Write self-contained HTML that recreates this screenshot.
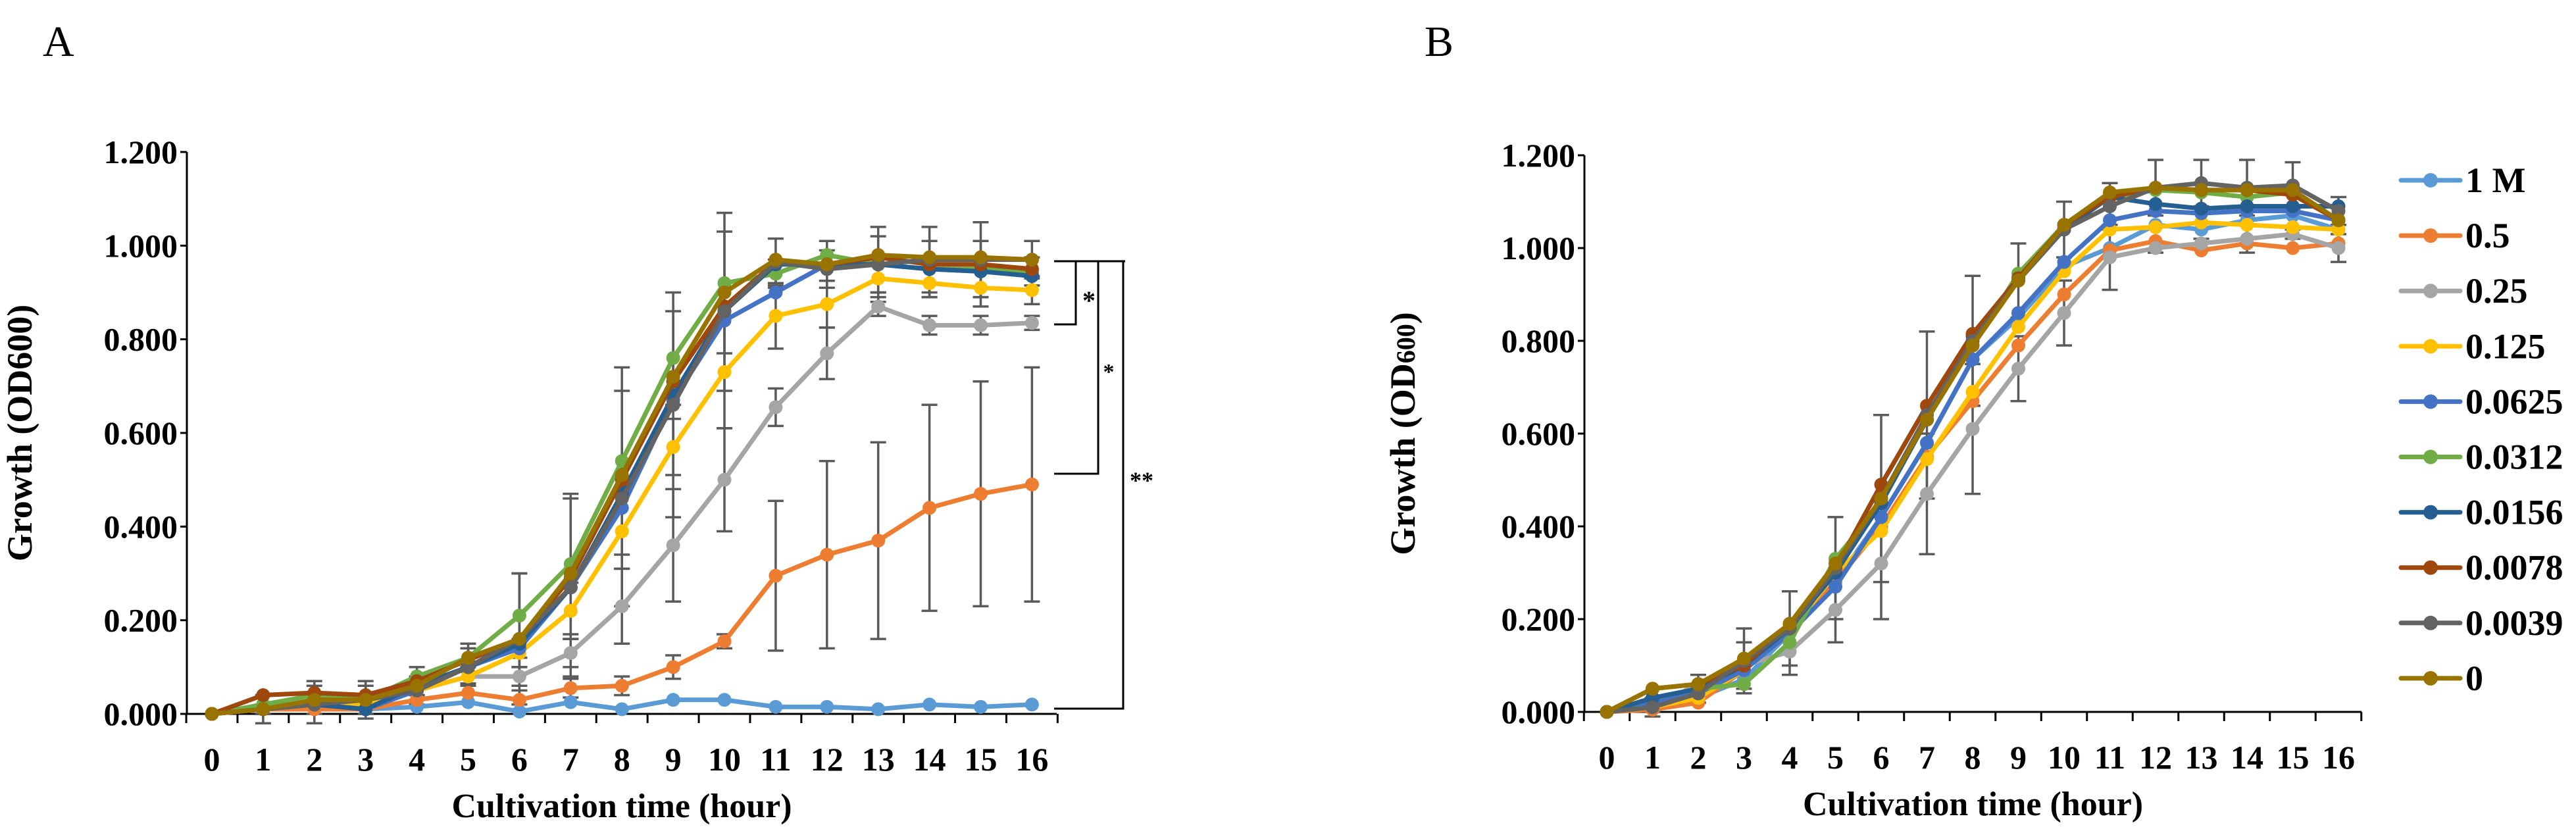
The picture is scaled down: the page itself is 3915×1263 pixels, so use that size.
<!DOCTYPE html>
<html><head><meta charset="utf-8"><style>
html,body{margin:0;padding:0;background:#fff;}
svg text{font-family:"Liberation Serif",serif;}
</style></head><body>
<svg id="chart" width="3915" height="1258" viewBox="0 0 3915 1258" xmlns="http://www.w3.org/2000/svg">
<text x="65" y="85" font-size="66">A</text>
<text x="2165" y="85" font-size="66">B</text>
<g id="pa"></g>
<g id="pb"></g>
<g id="sig" stroke="#000" stroke-width="3" fill="none">
<path d="M1602 397 H1710 M1602 493 H1635 V397 M1602 720 H1669 V397 M1602 1077 H1707 V397"/>
</g>
<text x="1655" y="470" font-size="40" font-weight="bold" text-anchor="middle">*</text>
<text x="1685" y="576" font-size="34" font-weight="bold" text-anchor="middle">*</text>
<text x="1735" y="742" font-size="36" font-weight="bold" text-anchor="middle">**</text>
</svg>
<script>
const hours = [0,1,2,3,4,5,6,7,8,9,10,11,12,13,14,15,16];
const seriesNames = ["1 M","0.5","0.25","0.125","0.0625","0.0312","0.0156","0.0078","0.0039","0"];
const seriesColors = ["#5B9BD5","#ED7D31","#A5A5A5","#FFC000","#4472C4","#70AD47","#255E91","#9E480E","#636363","#997300"];
const yTicks = [0,0.2,0.4,0.6,0.8,1.0,1.2];
const yTickLabels = ["0.000","0.200","0.400","0.600","0.800","1.000","1.200"];

const aVals = [
[0,0.01,0.01,0.01,0.015,0.025,0.005,0.025,0.01,0.03,0.03,0.015,0.015,0.01,0.02,0.015,0.02],
[0,0.01,0.01,0.01,0.03,0.045,0.03,0.055,0.06,0.1,0.155,0.295,0.34,0.37,0.44,0.47,0.49],
[0,0.01,0.02,0.02,0.05,0.08,0.08,0.13,0.23,0.36,0.5,0.655,0.77,0.87,0.83,0.83,0.835],
[0,0.01,0.02,0.02,0.05,0.08,0.13,0.22,0.39,0.57,0.73,0.85,0.875,0.93,0.92,0.91,0.905],
[0,0.02,0.02,0.01,0.05,0.1,0.14,0.27,0.44,0.67,0.84,0.9,0.96,0.96,0.95,0.945,0.94],
[0,0.02,0.04,0.03,0.08,0.12,0.21,0.32,0.54,0.76,0.92,0.94,0.98,0.96,0.95,0.95,0.945],
[0,0.01,0.02,0.01,0.06,0.1,0.15,0.27,0.47,0.68,0.86,0.96,0.96,0.96,0.95,0.945,0.935],
[0,0.04,0.045,0.04,0.07,0.115,0.16,0.29,0.5,0.71,0.87,0.965,0.96,0.975,0.96,0.96,0.95],
[0,0.01,0.02,0.03,0.05,0.1,0.16,0.27,0.46,0.66,0.86,0.965,0.95,0.96,0.97,0.97,0.97],
[0,0.01,0.03,0.03,0.06,0.12,0.16,0.3,0.51,0.72,0.9,0.97,0.96,0.98,0.975,0.975,0.97]];
const aErrOrange = [0,0.01,0.01,0.01,0.01,0.02,0.02,0.02,0.02,0.025,0.015,0.16,0.2,0.21,0.22,0.24,0.25];
const aErrGray = [0,0.01,0.01,0.01,0.01,0.02,0.02,0.03,0.08,0.12,0.11,0.04,0.055,0.02,0.02,0.02,0.015];
const aErrTop = [0,0.03,0.04,0.04,0.03,0.04,0.14,0.19,0.23,0.24,0.17,0.05,0.04,0.08,0.07,0.08,0.04];
const aErrGreen = [0,0.02,0.03,0.03,0.02,0.03,0.09,0.15,0.2,0.1,0.15,0.03,0.03,0.06,0.06,0.06,0.03];
const aErrYellow = [0,0.01,0.01,0.01,0.02,0.02,0.03,0.06,0.08,0.06,0.12,0.07,0.05,0.03,0.03,0.04,0.03];

const bVals = [
[0,0.01,0.03,0.07,0.17,0.28,0.42,0.58,0.76,0.85,0.96,1.0,1.05,1.04,1.06,1.07,1.04],
[0,0.005,0.02,0.09,0.17,0.28,0.4,0.55,0.67,0.79,0.9,0.995,1.015,0.995,1.01,1.0,1.01],
[0,0.01,0.06,0.1,0.13,0.22,0.32,0.47,0.61,0.74,0.86,0.98,1.0,1.01,1.02,1.03,1.0],
[0,0.01,0.03,0.09,0.17,0.3,0.39,0.545,0.69,0.83,0.95,1.04,1.045,1.055,1.05,1.045,1.04],
[0,0.02,0.04,0.09,0.17,0.27,0.42,0.58,0.76,0.86,0.97,1.06,1.08,1.075,1.08,1.08,1.06],
[0,0.03,0.05,0.06,0.15,0.33,0.45,0.63,0.79,0.945,1.05,1.11,1.125,1.12,1.11,1.12,1.06],
[0,0.03,0.05,0.1,0.18,0.3,0.45,0.63,0.81,0.93,1.04,1.11,1.095,1.085,1.09,1.09,1.09],
[0,0.05,0.06,0.1,0.19,0.31,0.49,0.66,0.815,0.935,1.05,1.11,1.13,1.125,1.125,1.115,1.06],
[0,0.01,0.04,0.11,0.18,0.31,0.46,0.64,0.8,0.93,1.04,1.09,1.13,1.14,1.13,1.135,1.08],
[0,0.05,0.06,0.115,0.19,0.32,0.46,0.63,0.79,0.93,1.05,1.12,1.13,1.125,1.125,1.125,1.06]];
const bErr = [0,0.02,0.02,0.07,0.08,0.11,0.18,0.18,0.14,0.08,0.06,0.05,0.06,0.05,0.06,0.05,0.03];
const bErrGray = [0,0.01,0.02,0.05,0.05,0.07,0.12,0.13,0.14,0.07,0.07,0.07,0.01,0.01,0.03,0.01,0.03];

const NS = "http://www.w3.org/2000/svg";
function mk(parent, tag, attrs, txt){
  const e = document.createElementNS(NS, tag);
  for (const k in attrs) e.setAttribute(k, attrs[k]);
  if (txt !== undefined) e.textContent = txt;
  parent.appendChild(e);
  return e;
}

function drawPanel(g, cfg, vals, errs, prefix){
  const xs = i => cfg.c0 + i * cfg.step;
  const ys = v => cfg.y0 - v / 1.2 * (cfg.y0 - cfg.y12);
  const ax = mk(g, "path", {d:`M${cfg.axL} ${cfg.y12} V${cfg.y0} H${cfg.axR}`, stroke:"#000", "stroke-width":3, fill:"none"});
  
  
  yTicks.forEach((t, i) => {
    const y = ys(t);
    const tk = mk(g, "line", {x1:cfg.axL-10, x2:cfg.axL, y1:y, y2:y, stroke:"#000", "stroke-width":3});
    
    
    const lb = mk(g, "text", {x:cfg.axL-14, y:y+17, "font-size":50, "font-weight":"bold", "text-anchor":"end"}, yTickLabels[i]);
    
    
  });
  for (let i = 0; i <= hours.length; i++) {
    const x = cfg.c0 + (i - 0.5) * cfg.step;
    const tk = mk(g, "line", {x1:x, x2:x, y1:cfg.y0, y2:cfg.y0+14, stroke:"#000", "stroke-width":3});
    
    
  }
  hours.forEach((h, i) => {
    const lb = mk(g, "text", {x:xs(i), y:cfg.y0+86, "font-size":50, "font-weight":"bold", "text-anchor":"middle"}, String(h));
    
    
  });
  const xt = mk(g, "text", {x:(cfg.axL+cfg.axR)/2, y:cfg.y0+157, "font-size":52, "font-weight":"bold", "text-anchor":"middle"}, "Cultivation time (hour)");
  
  
  const yt = mk(g, "text", {transform:`translate(${cfg.ytX},${(cfg.y0+cfg.y12)/2}) rotate(-90)`, "font-size":54, "font-weight":"bold", "text-anchor":"middle"});
  
  
  if (cfg.sub) {
    yt.appendChild(document.createTextNode("Growth (OD"));
    mk(yt, "tspan", {"font-size":40}, "600");
    yt.appendChild(document.createTextNode(")"));
  } else {
    yt.textContent = "Growth (OD600)";
  }
  errs.forEach(eb => {
    const s = eb.series;
    vals[s].forEach((v, i) => {
      const e = eb.err[i];
      if (!e) return;
      const x = xs(i), y1 = ys(v - e), y2 = ys(v + e);
      const p = mk(g, "path", {d:`M${x} ${y1} V${y2} M${x-12} ${y1} H${x+12} M${x-12} ${y2} H${x+12}`, stroke:"#5a5a5a", "stroke-width":3.5, fill:"none"});
      
      
    });
  });
  vals.forEach((arr, s) => {
    const sg = mk(g, "g", {});
    
    
    const d = arr.map((v, i) => (i ? "L" : "M") + xs(i) + " " + ys(v)).join(" ");
    const ln = mk(sg, "path", {d, stroke:seriesColors[s], "stroke-width":7, fill:"none", "stroke-linejoin":"round"});
    
    
    arr.forEach((v, i) => {
      const c = mk(sg, "circle", {cx:xs(i), cy:ys(v), r:10.5, fill:seriesColors[s]});
      
      
    });
  });
}

drawPanel(document.getElementById("pa"),
  {c0:322, step:77.9, axL:284, axR:1606, y0:1085, y12:231, ytX:48, sub:false},
  aVals,
  [{series:1, err:aErrOrange},{series:2, err:aErrGray},{series:8, err:aErrTop},{series:5, err:aErrGreen},{series:3, err:aErrYellow}], "panel-a");

drawPanel(document.getElementById("pb"),
  {c0:2442, step:69.5, axL:2408, axR:3589, y0:1082, y12:236, ytX:2150, sub:true},
  bVals,
  [{series:8, err:bErr},{series:2, err:bErrGray}], "panel-b");

const lg = document.createElementNS(NS, "g");


document.getElementById("chart").appendChild(lg);
seriesNames.forEach((n, i) => {
  const y = 274 + i * 84.1;
  const e = mk(lg, "g", {});
  
  
  mk(e, "line", {x1:3649, x2:3739, y1:y, y2:y, stroke:seriesColors[i], "stroke-width":7, "stroke-linecap":"round"});
  mk(e, "circle", {cx:3694, cy:y, r:11, fill:seriesColors[i]});
  mk(e, "text", {x:3747, y:y+18, "font-size":54, "font-weight":"bold"}, n);
});
</script>
</body></html>
